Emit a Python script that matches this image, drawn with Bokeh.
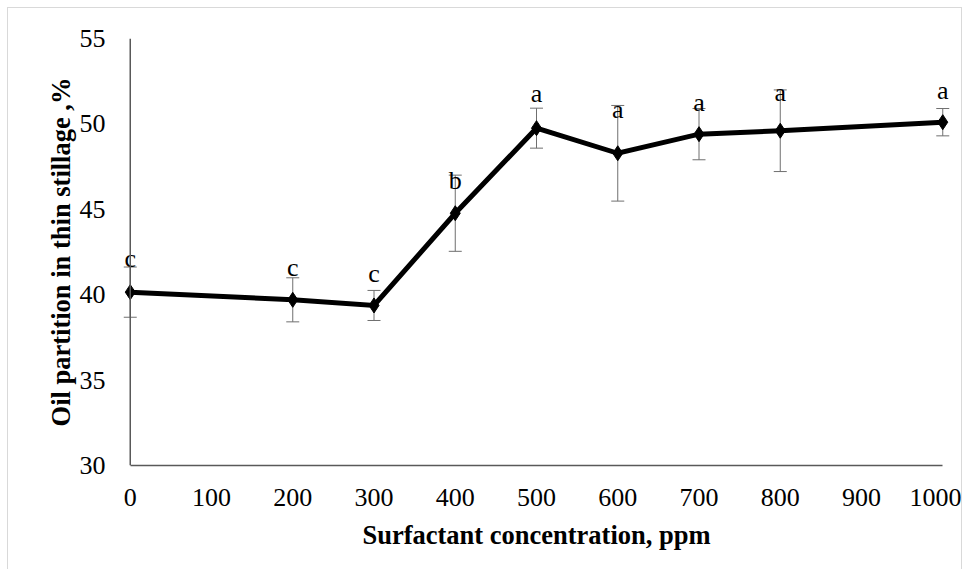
from bokeh.plotting import figure
from bokeh.models import Range1d, FixedTicker, Span, Whisker, ColumnDataSource, TeeHead
from bokeh.core.properties import value
from bokeh.embed import file_html
from bokeh.resources import INLINE

conc = [0, 200, 300, 400, 500, 600, 700, 800, 1000]
oil = [40.15, 39.70, 39.37, 44.77, 49.75, 48.28, 49.40, 49.60, 50.10]
err = [1.47, 1.29, 0.88, 2.23, 1.17, 2.80, 1.50, 2.39, 0.80]
letters = ["c", "c", "c", "b", "a", "a", "a", "a", "a"]
letter_y = [41.59, 41.07, 40.71, 46.14, 51.26, 50.30, 50.73, 51.31, 51.41]
x_ticks = [0, 100, 200, 300, 400, 500, 600, 700, 800, 900, 1000]
y_ticks = [30, 35, 40, 45, 50, 55]

FONT = "Liberation Serif"
AXC = "#595959"

src = ColumnDataSource(dict(
    x=conc, y=oil,
    lo=[v - e for v, e in zip(oil, err)],
    hi=[v + e for v, e in zip(oil, err)],
    lab=letters, ly=letter_y,
))

p = figure(width=955, height=562, output_backend="svg", toolbar_location=None,
           x_range=Range1d(-12, 1012), y_range=Range1d(30, 55),
           min_border_left=112, min_border_right=11, min_border_top=30,
           min_border_bottom=105)
p.styles = {"border-top": "1px solid #d9d9d9", "border-left": "1px solid #d9d9d9",
            "border-right": "1px solid #d9d9d9", "box-sizing": "border-box",
            "margin-left": "7px", "margin-top": "7px"}
p.outline_line_color = None
p.grid.grid_line_color = None
p.background_fill_color = "white"
p.border_fill_color = "white"

# axes
p.xaxis.ticker = FixedTicker(ticks=x_ticks)
p.yaxis.ticker = FixedTicker(ticks=y_ticks)
p.xaxis.bounds = (0, 1000)
p.xaxis.axis_line_color = AXC
p.xaxis.axis_line_width = 1.5
p.yaxis.axis_line_color = None
for ax in (p.xaxis, p.yaxis):
    ax.major_tick_line_color = None
    ax.minor_tick_line_color = None
    ax.major_label_text_font = FONT
    ax.major_label_text_font_size = "26px"
    ax.major_label_text_color = "black"
    ax.axis_label_text_font = FONT
    ax.axis_label_text_font_style = "bold"
    ax.axis_label_text_color = "black"
    ax.axis_label_text_font_size = "26.5px"
p.xaxis.major_label_standoff = 17
p.yaxis.major_label_standoff = 9
p.xaxis.axis_label = "Surfactant concentration, ppm"
p.yaxis.axis_label = "Oil partition in thin stillage ,%"
p.xaxis.axis_label_standoff = 11
p.yaxis.axis_label_standoff = 1

p.add_layout(Span(location=0, dimension="height", line_color=AXC, line_width=1.5))

# error bars
wh = Whisker(source=src, base="x", upper="hi", lower="lo", line_color="#6f6f6f",
             line_width=1,
             upper_head=TeeHead(size=13, line_color="#6f6f6f", line_width=1),
             lower_head=TeeHead(size=13, line_color="#6f6f6f", line_width=1))
p.add_layout(wh)

p.line("x", "y", source=src, line_color="black", line_width=5, line_join="miter")
p.scatter("x", "y", source=src, marker="diamond", size=15, fill_color="black",
          line_color="black")

p.text("x", "ly", text="lab", source=src, text_font=value(FONT),
       text_font_size="26px", text_align="center", text_baseline="alphabetic",
       text_color="black", y_offset=-9)

open("out.html", "w").write(file_html(p, INLINE))
